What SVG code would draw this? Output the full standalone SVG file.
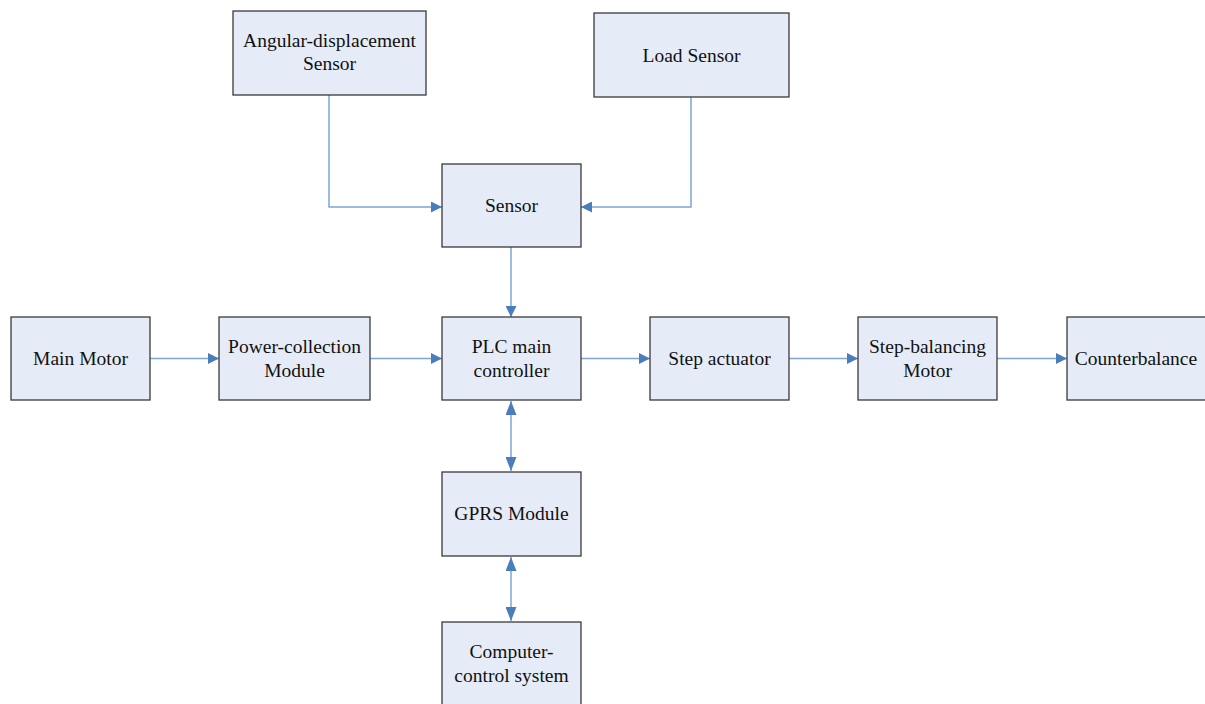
<svg xmlns="http://www.w3.org/2000/svg" width="1205" height="704" viewBox="0 0 1205 704">
<style>
.box{fill:#e6ecf7;stroke:#3a3a3a;stroke-width:1.3}
text{font-family:'Liberation Serif','DejaVu Serif',serif;font-size:19.5px;fill:#111;text-anchor:middle}
.c{fill:none;stroke:#7ea5d6;stroke-width:1.5}
</style>
<defs>
<marker id="ah" viewBox="0 0 11 11" refX="11" refY="5.5" markerWidth="11" markerHeight="11" markerUnits="userSpaceOnUse" orient="auto-start-reverse">
<path d="M0,0 L11,5.5 L0,11 Z" fill="#4a7ebb"/>
</marker>
<marker id="ah2" viewBox="0 0 14 11" refX="14" refY="5.5" markerWidth="14" markerHeight="11" markerUnits="userSpaceOnUse" orient="auto-start-reverse">
<path d="M0,0 L14,5.5 L0,11 Z" fill="#4a7ebb"/>
</marker>
</defs>
<rect width="1205" height="704" fill="#fff"/>
<g id="connectors">
<path class="c" d="M329,95 V207 H442" marker-end="url(#ah)"/>
<path class="c" d="M691,97 V207 H581" marker-end="url(#ah)"/>
<path class="c" d="M511,247 V317" marker-end="url(#ah)"/>
<path class="c" d="M150,358.5 H219" marker-end="url(#ah)"/>
<path class="c" d="M370,358.5 H442" marker-end="url(#ah)"/>
<path class="c" d="M581,358.5 H650" marker-end="url(#ah)"/>
<path class="c" d="M789,358.5 H858" marker-end="url(#ah)"/>
<path class="c" d="M997,358.5 H1067" marker-end="url(#ah)"/>
<path class="c" d="M511,401 V471" marker-start="url(#ah2)" marker-end="url(#ah2)"/>
<path class="c" d="M511,557 V621" marker-start="url(#ah2)" marker-end="url(#ah2)"/>
</g>
<g id="angular"><rect class="box" x="233" y="11" width="193" height="84"/><text x="329.5" y="47">Angular-displacement</text><text x="329.5" y="70">Sensor</text></g>
<g id="load"><rect class="box" x="594" y="13" width="195" height="84"/><text x="691.5" y="62">Load Sensor</text></g>
<g id="sensor"><rect class="box" x="442" y="164" width="139" height="83"/><text x="511.5" y="212">Sensor</text></g>
<g id="mainmotor"><rect class="box" x="11" y="317" width="139" height="83"/><text x="80.5" y="365">Main Motor</text></g>
<g id="power"><rect class="box" x="219" y="317" width="151" height="83"/><text x="294.5" y="353">Power-collection</text><text x="294.5" y="377">Module</text></g>
<g id="plc"><rect class="box" x="442" y="317" width="139" height="83"/><text x="511.5" y="353">PLC main</text><text x="511.5" y="377">controller</text></g>
<g id="stepact"><rect class="box" x="650" y="317" width="139" height="83"/><text x="719.5" y="365">Step actuator</text></g>
<g id="stepbal"><rect class="box" x="858" y="317" width="139" height="83"/><text x="927.5" y="353">Step-balancing</text><text x="927.5" y="377">Motor</text></g>
<g id="counter"><rect class="box" x="1067" y="317" width="145" height="83"/><text x="1136" y="365">Counterbalance</text></g>
<g id="gprs"><rect class="box" x="442" y="472" width="139" height="84"/><text x="511.5" y="520">GPRS Module</text></g>
<g id="computer"><rect class="box" x="442" y="622" width="139" height="90"/><text x="511.5" y="658">Computer-</text><text x="511.5" y="682">control system</text></g>
</svg>
